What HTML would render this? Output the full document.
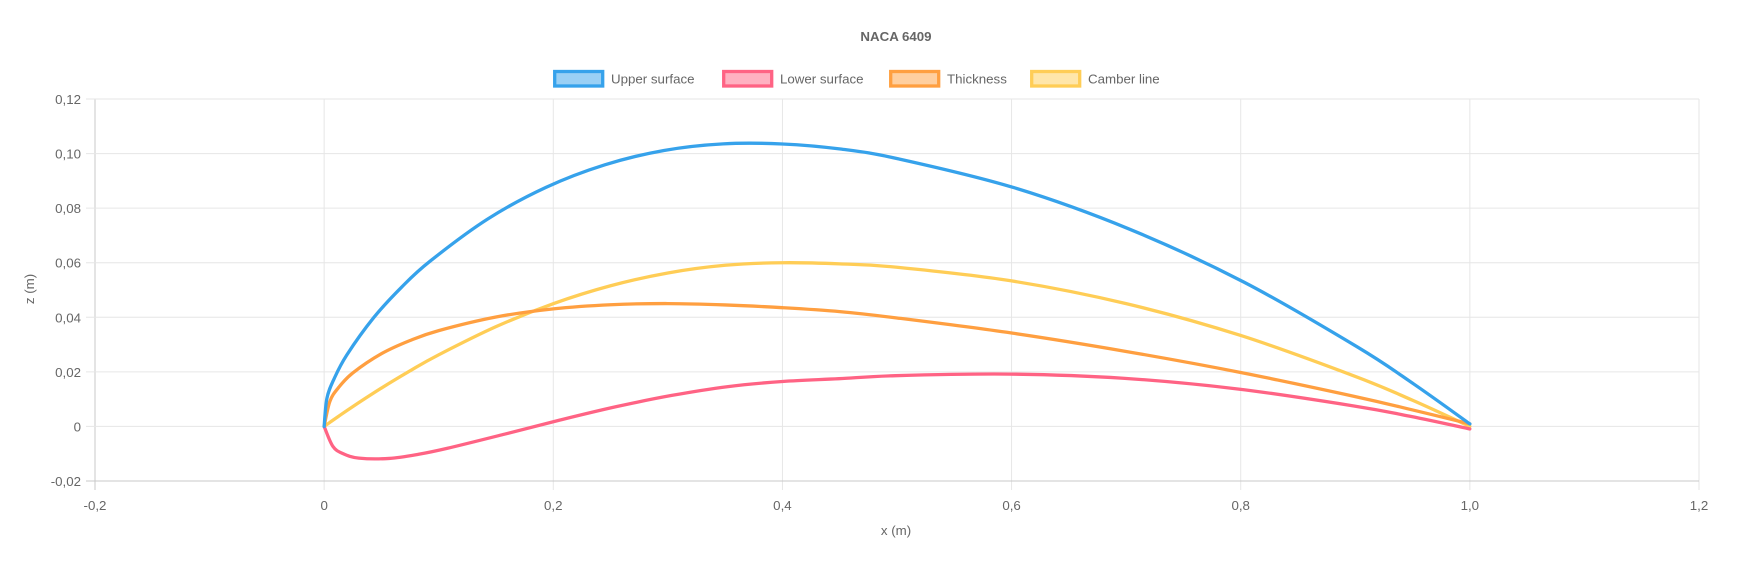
<!DOCTYPE html>
<html>
<head>
<meta charset="utf-8">
<style>
html,body{margin:0;padding:0;background:#fff;}
svg{display:block;font-family:"Liberation Sans",Arial,sans-serif;}
</style>
</head>
<body>
<svg id="chart" width="1743" height="564" viewBox="0 0 1743 564">
  <text x="896" y="41" text-anchor="middle" font-size="13.3" font-weight="bold" fill="#666">NACA 6409</text>
  <g id="grid"></g>
  <g id="legend"></g>
  <g id="series"></g>
  <text x="896" y="535" text-anchor="middle" font-size="13.3" fill="#666">x (m)</text>
  <text transform="translate(34,289) rotate(-90)" text-anchor="middle" font-size="13.3" fill="#666">z (m)</text>
</svg>
<script>
const xTicks = [-0.2, 0, 0.2, 0.4, 0.6, 0.8, 1.0, 1.2];
const xTickLabels = ["-0,2", "0", "0,2", "0,4", "0,6", "0,8", "1,0", "1,2"];
const yTicks = [0.12, 0.10, 0.08, 0.06, 0.04, 0.02, 0, -0.02];
const yTickLabels = ["0,12", "0,10", "0,08", "0,06", "0,04", "0,02", "0", "-0,02"];

const upperX = [0, 0.0024, 0.00855, 0.0197, 0.0432, 0.0675, 0.0923, 0.1426, 0.1936, 0.245, 0.2966, 0.3483, 0.4, 0.4507, 0.5013, 0.6023, 0.7027, 0.8026, 0.9018, 0.9511, 1.0];
const upperZ = [0, 0.01027, 0.01733, 0.02614, 0.03985, 0.05099, 0.06051, 0.07597, 0.08761, 0.09588, 0.10114, 0.10356, 0.10352, 0.10166, 0.09806, 0.08748, 0.07234, 0.05293, 0.02912, 0.01553, 0.00093];
const lowerX = [0, 0.0076, 0.01645, 0.0303, 0.0568, 0.0825, 0.1077, 0.1574, 0.2064, 0.255, 0.3034, 0.3517, 0.4, 0.4493, 0.4987, 0.5977, 0.6973, 0.7974, 0.8982, 0.9489, 1.0];
const lowerZ = [0, -0.00729, -0.00995, -0.0116, -0.01173, -0.01021, -0.00801, -0.00285, 0.00239, 0.00724, 0.01136, 0.01456, 0.01648, 0.0175, 0.0186, 0.01918, 0.01766, 0.01373, 0.00754, 0.00363, -0.00093];
const stationX = [0, 0.005, 0.0125, 0.025, 0.05, 0.075, 0.1, 0.15, 0.2, 0.25, 0.3, 0.35, 0.4, 0.45, 0.5, 0.6, 0.7, 0.8, 0.9, 0.95, 1.0];
const thicknessZ = [0, 0.00916, 0.0142, 0.0196, 0.02666, 0.0315, 0.03512, 0.0401, 0.04309, 0.0446, 0.04502, 0.04453, 0.04352, 0.04208, 0.03975, 0.03423, 0.02748, 0.01977, 0.01094, 0.00605, 0.00095];
const camberZ = [0, 0.00149, 0.00369, 0.00727, 0.01406, 0.02039, 0.02625, 0.03656, 0.045, 0.05156, 0.05625, 0.05906, 0.06, 0.05958, 0.05833, 0.05333, 0.045, 0.03333, 0.01833, 0.00958, 0];

const seriesNames = ["Upper surface", "Lower surface", "Thickness", "Camber line"];

const NS = "http://www.w3.org/2000/svg";
const L = 95, R = 1699, T = 99, B = 481;
const xMin = -0.2, xMax = 1.2, yMin = -0.02, yMax = 0.12;
function sx(v){ return L + (v - xMin) / (xMax - xMin) * (R - L); }
function sy(v){ return B - (v - yMin) / (yMax - yMin) * (B - T); }
function mk(tag, attrs, parent){ const e = document.createElementNS(NS, tag); for (const k in attrs) e.setAttribute(k, attrs[k]); parent.appendChild(e); return e; }

const grid = document.getElementById('grid');
xTicks.forEach((t, i) => {
  const ln = mk('line', {x1: sx(t), x2: sx(t), y1: T, y2: B + 9, stroke: i === 0 ? '#c8c8c8' : '#e6e6e6', 'stroke-width': 1}, grid);
  
  
  const tx = mk('text', {x: sx(t), y: B + 29, 'text-anchor': 'middle', 'font-size': 13.3, fill: '#666'}, grid);
  tx.textContent = xTickLabels[i];
  
  
});
yTicks.forEach((t, i) => {
  const ln = mk('line', {x1: L - 9, x2: R, y1: sy(t), y2: sy(t), stroke: i === yTicks.length - 1 ? '#c8c8c8' : '#e6e6e6', 'stroke-width': 1}, grid);
  
  
  const tx = mk('text', {x: L - 14, y: sy(t) + 5, 'text-anchor': 'end', 'font-size': 13.3, fill: '#666'}, grid);
  tx.textContent = yTickLabels[i];
  
  
});

function smoothPath(xs, ys){
  const p = xs.map((x, i) => [sx(x), sy(ys[i])]);
  let d = 'M' + p[0][0] + ',' + p[0][1];
  for (let i = 0; i < p.length - 1; i++){
    const p0 = p[i - 1] || p[i], p1 = p[i], p2 = p[i + 1], p3 = p[i + 2] || p2;
    const c1 = [p1[0] + (p2[0] - p0[0]) / 6, p1[1] + (p2[1] - p0[1]) / 6];
    const c2 = [p2[0] - (p3[0] - p1[0]) / 6, p2[1] - (p3[1] - p1[1]) / 6];
    d += ' C' + c1[0] + ',' + c1[1] + ' ' + c2[0] + ',' + c2[1] + ' ' + p2[0] + ',' + p2[1];
  }
  return d;
}

const ser = document.getElementById('series');
const colors = ['rgb(54,162,235)', 'rgb(255,99,132)', 'rgb(255,159,64)', 'rgb(255,205,86)'];
const fills = ['rgba(54,162,235,0.5)', 'rgba(255,99,132,0.5)', 'rgba(255,159,64,0.5)', 'rgba(255,205,86,0.5)'];
const data = [[camberZ, stationX, 3], [thicknessZ, stationX, 2], [lowerZ, lowerX, 1], [upperZ, upperX, 0]];
data.forEach(([ys, xs, ci]) => {
  const pth = mk('path', {d: smoothPath(xs, ys), fill: 'none', stroke: colors[ci], 'stroke-width': 3.3, 'stroke-linejoin': 'round', 'stroke-linecap': 'round'}, ser);
  
  
});

const leg = document.getElementById('legend');
const legX = [553, 722, 889, 1030];
seriesNames.forEach((n, i) => {
  const g = mk('g', {}, leg);
  
  
  mk('rect', {x: legX[i] + 1.7, y: 71.5, width: 48, height: 14.5, fill: fills[i], stroke: colors[i], 'stroke-width': 3.3}, g);
  const t = mk('text', {x: legX[i] + 58, y: 83.5, 'font-size': 13.3, fill: '#666'}, g);
  t.textContent = n;
});
</script>
</body>
</html>
